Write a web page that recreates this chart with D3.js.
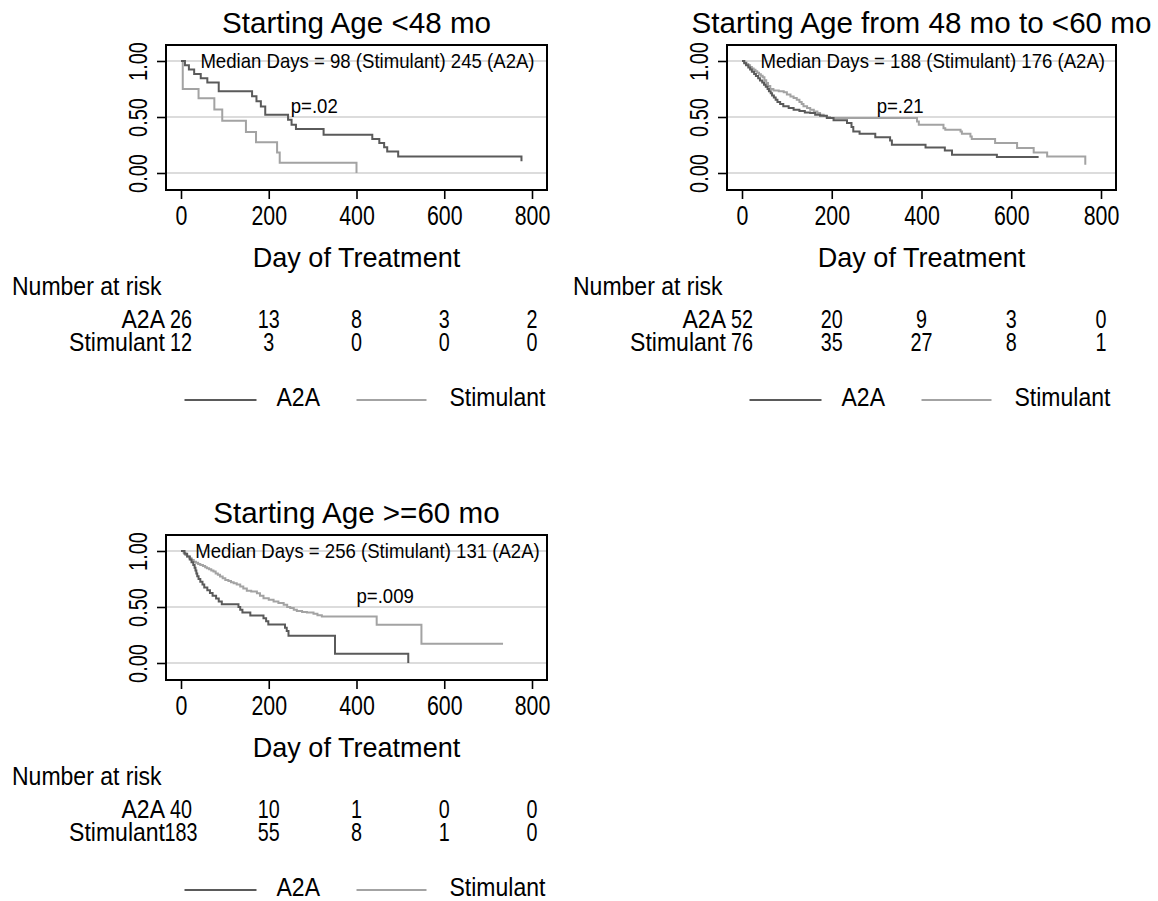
<!DOCTYPE html>
<html>
<head>
<meta charset="utf-8">
<script src="https://cdn.jsdelivr.net/npm/d3@7"></script>
<style>
  body { margin: 0; background: #fff; }
  text { font-family: "Liberation Sans", Arial, Helvetica, sans-serif; fill: #000; }
</style>
</head>
<body>
<svg id="chart"></svg>
<script>
// ---- data ----
const xTicks = [0, 200, 400, 600, 800];
const yTicks = [0, 0.5, 1];
const groups = ["A2A", "Stimulant"];
const titles = ["Starting Age <48 mo", "Starting Age from 48 mo to <60 mo", "Starting Age >=60 mo"];
const medianLabels = [
  "Median Days = 98 (Stimulant) 245 (A2A)",
  "Median Days = 188 (Stimulant) 176 (A2A)",
  "Median Days = 256 (Stimulant) 131 (A2A)"
];
const pLabels = ["p=.02", "p=.21", "p=.009"];
const pDays = [250, 300, 400];
const medianDay = 425;

// Kaplan-Meier steps: [day, survival]
const a2aLt48 = [[0,1],[9,0.962],[18,0.923],[30,0.885],[45,0.846],[60,0.808],[86,0.731],[162,0.686],[172,0.64],
  [182,0.594],[192,0.52],[244,0.475],[252,0.43],[262,0.392],[325,0.341],[436,0.303],[452,0.267],[463,0.231],
  [470,0.193],[495,0.148],[776,0.104]];
const stimLt48 = [[0,1],[4,0.75],[40,0.667],[76,0.567],[94,0.467],[148,0.367],[171,0.275],[219,0.183],[225,0.092],[400,0]];

const a2a48to60 = [[0,1],[5,0.98],[9,0.962],[14,0.942],[18,0.923],[22,0.904],[27,0.885],[31,0.865],[36,0.846],
  [40,0.827],[45,0.808],[49,0.788],[53,0.769],[57,0.75],[60,0.73],[64,0.711],[67,0.692],[71,0.673],[75,0.654],
  [79,0.635],[85,0.615],[92,0.596],[104,0.58],[115,0.565],[128,0.553],[140,0.54],[152,0.535],[163,0.52],
  [174,0.512],[189,0.49],[204,0.47],[234,0.447],[244,0.41],[248,0.371],[262,0.35],[297,0.32],[330,0.29],
  [334,0.252],[409,0.228],[452,0.2],[468,0.163],[568,0.142],[661,0.142]];
const stim48to60 = [[0,1],[5,0.987],[10,0.974],[14,0.961],[18,0.947],[22,0.934],[26,0.921],[30,0.908],[34,0.895],
  [38,0.882],[42,0.868],[46,0.855],[50,0.829],[54,0.803],[58,0.777],[63,0.75],[70,0.737],[82,0.73],[93,0.72],
  [100,0.7],[108,0.683],[115,0.67],[122,0.654],[128,0.635],[133,0.615],[137,0.595],[145,0.58],[152,0.565],
  [160,0.55],[168,0.535],[174,0.52],[182,0.51],[189,0.5],[196,0.49],[390,0.46],[394,0.43],[449,0.4],[453,0.386],
  [487,0.371],[490,0.35],[509,0.326],[512,0.303],[564,0.267],[613,0.223],[650,0.184],[680,0.148],[765,0.074]];

const a2aGe60 = [[0,1],[8,0.975],[14,0.95],[20,0.925],[24,0.9],[28,0.875],[31,0.85],[33,0.825],[35,0.8],[37,0.775],
  [40,0.75],[44,0.725],[49,0.7],[53,0.675],[60,0.65],[66,0.625],[72,0.6],[80,0.575],[86,0.55],[93,0.525],
  [131,0.5],[135,0.475],[140,0.45],[158,0.425],[188,0.4],[194,0.372],[199,0.343],[237,0.315],[241,0.286],
  [245,0.243],[351,0.083],[518,0]];
const stimGe60 = [[0,1],[6,0.985],[10,0.965],[14,0.95],[19,0.935],[24,0.92],[29,0.905],[34,0.895],[39,0.885],
  [44,0.875],[50,0.865],[55,0.855],[59,0.846],[64,0.836],[69,0.826],[74,0.816],[79,0.8],[84,0.787],[89,0.772],
  [95,0.757],[101,0.742],[108,0.732],[114,0.722],[120,0.712],[127,0.7],[135,0.682],[142,0.665],[150,0.645],
  [160,0.638],[173,0.623],[180,0.6],[188,0.579],[200,0.565],[211,0.549],[222,0.535],[234,0.519],[242,0.5],
  [249,0.49],[257,0.475],[264,0.465],[276,0.455],[287,0.451],[302,0.439],[311,0.427],[321,0.415],[446,0.341],
  [548,0.172],[734,0.172]];

// number at risk at each x tick
const riskA2A = [[26, 13, 8, 3, 2], [52, 20, 9, 3, 0], [40, 10, 1, 0, 0]];
const riskStim = [[12, 3, 0, 0, 0], [76, 35, 27, 8, 1], [183, 55, 8, 1, 0]];

const a2aCurves = [a2aLt48, a2a48to60, a2aGe60];
const stimCurves = [stimLt48, stim48to60, stimGe60];

// ---- layout ----
const width = 1158, height = 901;
const frames = [
  {left: 166, top: 45, right: 547, bottom: 190},
  {left: 727, top: 45, right: 1116, bottom: 190},
  {left: 166, top: 535, right: 547, bottom: 680}
];
const colors = {A2A: "#5a5a5a", Stimulant: "#a3a3a3"};

const svg = d3.select("#chart")
    .attr("width", width)
    .attr("height", height)
    .attr("viewBox", [0, 0, width, height]);

svg.append("rect").attr("width", width).attr("height", height).attr("fill", "#fff");

// text with horizontal squeeze, the source font is narrow
function label(g, x, y, str, size, sx = 1, anchor = "start") {
  return g.append("text")
      .attr("transform", `translate(${x},${y}) scale(${sx},1)`)
      .attr("font-size", size)
      .attr("text-anchor", anchor)
      .text(str);
}

frames.forEach((f, i) => {
  const g = svg.append("g");
  const x = d3.scaleLinear([0, 800], [f.left + 15, f.right - 15]);
  const y = d3.scaleLinear([0, 1], [f.bottom - 17, f.top + 16]);
  const cx = (f.left + f.right) / 2;

  // title
  label(g, cx, f.top - 12, titles[i], 29.6, 1, "middle");

  // grid lines
  g.append("g")
    .selectAll("line")
    .data(yTicks)
    .join("line")
      .attr("x1", f.left).attr("x2", f.right)
      .attr("y1", d => y(d)).attr("y2", d => y(d))
      .attr("stroke", "#dcdcdc")
      .attr("stroke-width", 2);

  // curves
  const line = d3.line()
      .curve(d3.curveStepAfter)
      .x(d => x(d[0]))
      .y(d => y(d[1]));

  [[stimCurves[i], "Stimulant"], [a2aCurves[i], "A2A"]].forEach(([data, grp]) => {
    g.append("path")
        .attr("d", line(data))
        .attr("fill", "none")
        .attr("stroke", colors[grp])
        .attr("stroke-width", 2);
  });

  // annotations
  label(g, x(medianDay), y(1) + 7, medianLabels[i], 20, 0.93, "middle");
  label(g, x(pDays[i]), y(0.6) + 7, pLabels[i], 20, 0.93, "start");

  // frame
  g.append("rect")
      .attr("x", f.left).attr("y", f.top)
      .attr("width", f.right - f.left).attr("height", f.bottom - f.top)
      .attr("fill", "none")
      .attr("stroke", "#000")
      .attr("stroke-width", 2);

  // x axis
  g.append("g")
      .attr("transform", `translate(0,${f.bottom})`)
      .call(d3.axisBottom(x).tickValues(xTicks).tickSize(9).tickPadding(7))
      .call(a => a.select(".domain").remove())
      .call(a => a.selectAll(".tick line").attr("stroke-width", 1.6))
      .call(a => a.selectAll(".tick text")
          .attr("font-size", 27)
          .attr("dy", "0.71em")
          .attr("transform", "scale(0.79,1)"));
  d3.select(g.node().lastChild).attr("font-family", null).attr("font-size", null);

  // y axis
  g.append("g")
      .attr("transform", `translate(${f.left},0)`)
      .call(d3.axisLeft(y).tickValues(yTicks).tickFormat(d3.format(".2f")).tickSize(9))
      .call(a => a.select(".domain").remove())
      .call(a => a.selectAll(".tick line").attr("stroke-width", 1.6))
      .call(a => a.selectAll(".tick text")
          .attr("x", null).attr("dy", null)
          .attr("font-size", 26)
          .attr("text-anchor", "middle")
          .attr("transform", "translate(-19,0) rotate(-90) scale(0.77,1)"));
  d3.select(g.node().lastChild).attr("font-family", null).attr("font-size", null);

  // axis title
  label(g, cx, f.bottom + 77, "Day of Treatment", 28.5, 0.95, "middle");

  // number at risk
  label(g, f.left - 154, f.bottom + 105, "Number at risk", 26, 0.885);
  [[riskA2A[i], "A2A", 138], [riskStim[i], "Stimulant", 161]].forEach(([row, grp, dy]) => {
    label(g, x(0) - 16, f.bottom + dy, grp, 26, 0.885, "end");
    row.forEach((n, k) => label(g, x(xTicks[k]), f.bottom + dy, n, 26, 0.76, "middle"));
  });

  // legend
  const ly = f.bottom + 210;
  const legendItems = [
    {grp: groups[0], x0: cx - 172, x1: cx - 100, tx: cx - 80},
    {grp: groups[1], x0: cx, x1: cx + 70, tx: cx + 93}
  ];
  legendItems.forEach(d => {
    g.append("line")
        .attr("x1", d.x0).attr("x2", d.x1)
        .attr("y1", ly).attr("y2", ly)
        .attr("stroke", colors[d.grp])
        .attr("stroke-width", 2);
    label(g, d.tx, ly + 6, d.grp, 25, 0.92);
  });
});
</script>
</body>
</html>
